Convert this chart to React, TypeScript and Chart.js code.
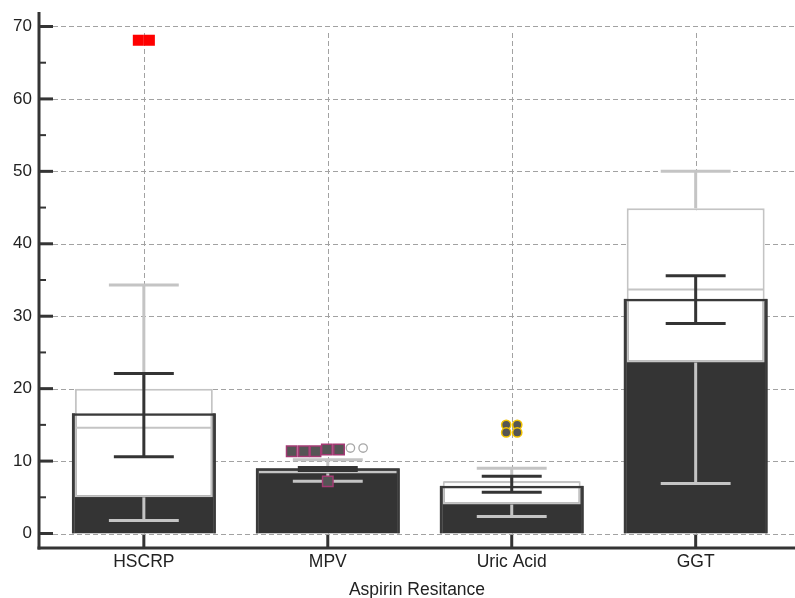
import React, { useEffect, useRef } from 'react';
import { Chart, registerables } from 'chart.js';

Chart.register(...registerables);

// ---- data ----
const categories = ['HSCRP', 'MPV', 'Uric Acid', 'GGT'];
const meanValues = [16.6, 9.0, 6.6, 32.4];
const q1Values = [5.0, 8.3, 4.0, 23.6];
const q3Values = [20.0, 8.7, 7.2, 44.9];
const medianValues = [14.6, 8.5, 7.1, 33.7];
const whiskerLow = [1.8, 7.2, 2.35, 6.9];
const whiskerHigh = [34.3, 10.2, 9.0, 50.0];
const errLow = [10.6, 8.7, 5.7, 29.0];
const errHigh = [22.1, 9.1, 7.9, 35.6];

const yTicks = [0, 10, 20, 30, 40, 50, 60, 70];
const yMinorTicks = [5, 15, 25, 35, 45, 55, 65];

// outliers (category index, jitter offset in category units, value)
const hscrpOutlierValues = [68.1, 68.1];
const hscrpOutlierJitter = [-0.03, 0.03];
const mpvSquareValues = [11.35, 11.35, 11.35, 11.6, 11.6, 7.2];
const mpvSquareJitter = [-0.196, -0.13, -0.067, -0.005, 0.061, 0];
const mpvCircleValues = [11.8, 11.8];
const mpvCircleJitter = [0.123, 0.192];
const uricOutlierValues = [15.0, 15.0, 13.95, 13.95];
const uricOutlierJitter = [-0.03, 0.03, -0.03, 0.03];

const DARK = '#343434';
const GRAY = '#c4c4c4';
const FONT = 'Liberation Sans, Arial, sans-serif';

const pts = (cat: number, jitter: number[], vals: number[]) =>
  vals.map((v, k) => ({ x: cat + jitter[k], y: v }));

const decorPlugin = {
  id: 'decor',
  beforeDatasetsDraw(chart: any) {
    const { ctx, chartArea, scales } = chart;
    const x = scales.x;
    const y = scales.y;
    ctx.save();
    // grid
    ctx.strokeStyle = '#a2a2a2';
    ctx.lineWidth = 1;
    ctx.setLineDash([5, 3]);
    yTicks.forEach((v) => {
      const py = Math.round(y.getPixelForValue(v)) + 0.5;
      ctx.beginPath();
      ctx.moveTo(chartArea.left + 14, py);
      ctx.lineTo(chartArea.right, py);
      ctx.stroke();
    });
    categories.forEach((_, i) => {
      const px = Math.round(x.getPixelForValue(i)) + 0.5;
      ctx.beginPath();
      ctx.moveTo(px, y.getPixelForValue(69.1));
      ctx.lineTo(px, y.getPixelForValue(0));
      ctx.stroke();
    });
    ctx.setLineDash([]);
    // axes
    ctx.strokeStyle = DARK;
    ctx.lineWidth = 3;
    ctx.beginPath();
    ctx.moveTo(chartArea.left, chartArea.top);
    ctx.lineTo(chartArea.left, chartArea.bottom + 1.5);
    ctx.stroke();
    ctx.beginPath();
    ctx.moveTo(chartArea.left - 1.5, chartArea.bottom);
    ctx.lineTo(chartArea.right, chartArea.bottom);
    ctx.stroke();
    yTicks.forEach((v) => {
      const py = y.getPixelForValue(v);
      ctx.beginPath();
      ctx.moveTo(chartArea.left, py);
      ctx.lineTo(chartArea.left + 14, py);
      ctx.stroke();
    });
    categories.forEach((_, i) => {
      const px = x.getPixelForValue(i);
      ctx.beginPath();
      ctx.moveTo(px, chartArea.bottom - 13);
      ctx.lineTo(px, chartArea.bottom);
      ctx.stroke();
    });
    ctx.lineWidth = 2;
    yMinorTicks.forEach((v) => {
      const py = y.getPixelForValue(v);
      ctx.beginPath();
      ctx.moveTo(chartArea.left, py);
      ctx.lineTo(chartArea.left + 7, py);
      ctx.stroke();
    });
    ctx.restore();
  },
  afterDatasetDraw(chart: any, args: any) {
    if (args.index !== 2) return;
    const { ctx, scales } = chart;
    const x = scales.x;
    const y = scales.y;
    const boxMeta = chart.getDatasetMeta(1);
    ctx.save();
    const hline = (x0: number, x1: number, py: number) => {
      ctx.beginPath();
      ctx.moveTo(x0, py);
      ctx.lineTo(x1, py);
      ctx.stroke();
    };
    const vline = (px: number, y0: number, y1: number) => {
      ctx.beginPath();
      ctx.moveTo(px, y0);
      ctx.lineTo(px, y1);
      ctx.stroke();
    };
    categories.forEach((_, i) => {
      const cx = x.getPixelForValue(i);
      const bar = boxMeta.data[i];
      const bw = bar.width;
      const wHalf = x.getPixelForValue(i + 0.19) - cx;
      const eHalf = x.getPixelForValue(i + 0.163) - cx;
      // median
      ctx.strokeStyle = GRAY;
      ctx.lineWidth = 2;
      hline(cx - bw / 2 + 1, cx + bw / 2 - 1, y.getPixelForValue(medianValues[i]));
      // whiskers
      ctx.lineWidth = 3;
      vline(cx, y.getPixelForValue(q3Values[i]), y.getPixelForValue(whiskerHigh[i]));
      vline(cx, y.getPixelForValue(q1Values[i]), y.getPixelForValue(whiskerLow[i]));
      hline(cx - wHalf, cx + wHalf, y.getPixelForValue(whiskerHigh[i]));
      hline(cx - wHalf, cx + wHalf, y.getPixelForValue(whiskerLow[i]));
      // error bars
      ctx.strokeStyle = DARK;
      vline(cx, y.getPixelForValue(errLow[i]), y.getPixelForValue(errHigh[i]));
      hline(cx - eHalf, cx + eHalf, y.getPixelForValue(errHigh[i]));
      hline(cx - eHalf, cx + eHalf, y.getPixelForValue(errLow[i]));
    });
    ctx.restore();
  },
};

export default function App() {
  const ref = useRef<HTMLCanvasElement>(null);
  useEffect(() => {
    const meanData = categories.map((_, i) => ({ x: i, y: meanValues[i] }));
    const boxData = categories.map((_, i) => ({ x: i, y: [q1Values[i], q3Values[i]] }));
    const chart = new Chart(ref.current as HTMLCanvasElement, {
      type: 'bar',
      data: {
        datasets: [
          {
            type: 'bar',
            data: meanData as any,
            backgroundColor: DARK,
            borderColor: '#3a3a3a',
            borderWidth: 2.5,
            grouped: false,
            categoryPercentage: 0.783,
            barPercentage: 1,
            order: 10,
          },
          {
            type: 'bar',
            data: boxData as any,
            backgroundColor: '#ffffff',
            borderColor: GRAY,
            borderWidth: 2,
            borderSkipped: false,
            grouped: false,
            categoryPercentage: 0.75,
            barPercentage: 1,
            order: 9,
          },
          {
            type: 'bar',
            data: meanData as any,
            backgroundColor: 'rgba(0,0,0,0)',
            borderColor: '#3a3a3a',
            borderWidth: 2.5,
            grouped: false,
            categoryPercentage: 0.783,
            barPercentage: 1,
            order: 8,
          },
          {
            type: 'scatter',
            data: pts(0, hscrpOutlierJitter, hscrpOutlierValues),
            pointStyle: 'rect',
            pointRadius: 7.8,
            backgroundColor: '#ff0000',
            borderColor: '#ff0000',
            borderWidth: 0,
            order: 3,
          } as any,
          {
            type: 'scatter',
            data: pts(1, mpvCircleJitter, mpvCircleValues),
            pointStyle: 'circle',
            pointRadius: 4.2,
            backgroundColor: '#ffffff',
            borderColor: '#a8a8a8',
            borderWidth: 1.3,
            order: 2,
          } as any,
          {
            type: 'scatter',
            data: pts(1, mpvSquareJitter, mpvSquareValues),
            pointStyle: 'rect',
            pointRadius: 7.4,
            backgroundColor: '#555555',
            borderColor: '#a33a73',
            borderWidth: 1.5,
            order: 1,
          } as any,
          {
            type: 'scatter',
            data: pts(2, uricOutlierJitter, uricOutlierValues),
            pointStyle: 'circle',
            pointRadius: 4.6,
            backgroundColor: '#555555',
            borderColor: '#f2c200',
            borderWidth: 1.5,
            order: 0,
          } as any,
        ],
      },
      options: {
        responsive: false,
        animation: false,
        devicePixelRatio: 1,
        layout: { autoPadding: false, padding: { top: 12, left: 0, right: 0, bottom: 0 } },
        plugins: { legend: { display: false }, tooltip: { enabled: false } },
        scales: {
          x: {
            type: 'linear',
            offset: false,
            min: -0.57,
            max: 3.54,
            grid: { display: false, drawTicks: false, offset: false },
            border: { display: false },
            afterBuildTicks: (scale: any) => {
              scale.ticks = categories.map((_, i) => ({ value: i }));
            },
            afterFit: (scale: any) => {
              scale.height = 50;
              scale.paddingLeft = 0;
              scale.paddingRight = 0;
            },
            ticks: {
              autoSkip: false,
              maxRotation: 0,
              padding: 4,
              color: '#222222',
              font: { family: FONT, size: 17.5 },
              callback: (v: any) => categories[Math.round(Number(v))] ?? '',
            },
            title: {
              display: true,
              text: 'Aspirin Resitance',
              color: '#222222',
              font: { family: FONT, size: 17.5 },
              padding: { top: 0, bottom: -3 },
            },
          },
          y: {
            type: 'linear',
            min: -2,
            max: 72,
            grid: { display: false, drawTicks: false },
            border: { display: false },
            afterBuildTicks: (scale: any) => {
              scale.ticks = yTicks.map((v) => ({ value: v }));
            },
            afterFit: (scale: any) => {
              scale.width = 39;
              scale.paddingTop = 0;
              scale.paddingBottom = 0;
            },
            ticks: {
              padding: 7,
              color: '#222222',
              font: { family: FONT, size: 17 },
            },
          },
        },
      } as any,
      plugins: [decorPlugin],
    });
    return () => chart.destroy();
  }, []);
  return (
    <div style={{ position: 'fixed', left: 0, top: 0, width: 795, height: 598, background: '#ffffff' }}>
      <canvas ref={ref} width={795} height={598} style={{ display: 'block', width: 795, height: 598 }} />
    </div>
  );
}
